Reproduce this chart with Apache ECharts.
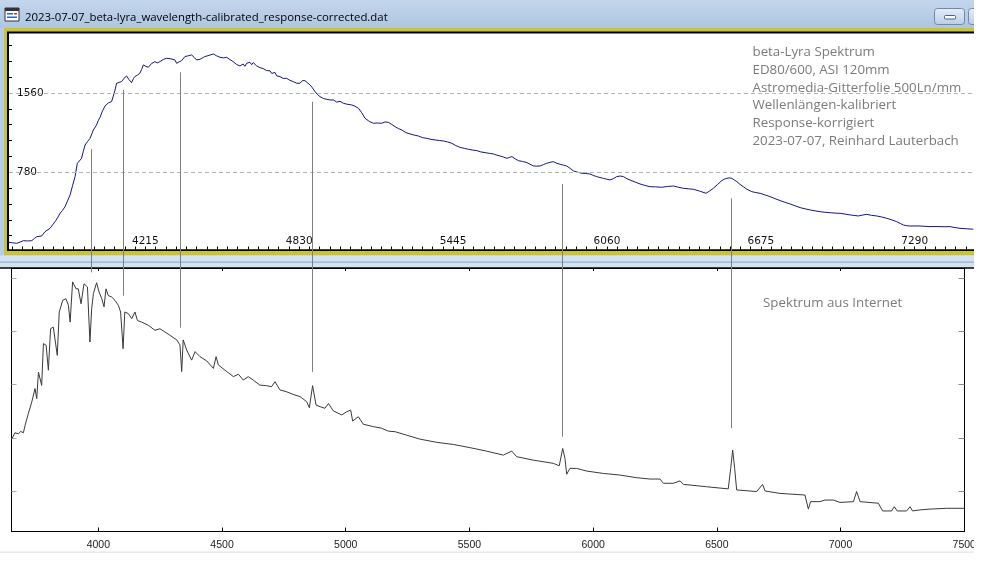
<!DOCTYPE html>
<html>
<head>
<meta charset="utf-8">
<script src="https://cdn.jsdelivr.net/npm/echarts@6/dist/echarts.min.js"></script>
<style>
  html, body { margin: 0; padding: 0; background: #fff; }
  #main { width: 986px; height: 562px; }
</style>
</head>
<body>
<div id="main"></div>
<script>
// ---- eigenes Spektrum (oben), Wellenlaenge in Angstroem / Intensitaet ----
var topWave = [3667, 3684, 3701, 3714, 3727, 3744, 3761, 3771, 3781, 3801, 3814, 3834, 3844, 3854, 3864, 3874, 3884, 3894, 3904, 3914,
  3924, 3934, 3943, 3951, 3960, 3967, 3974, 3984, 3994, 4007, 4014, 4020, 4027, 4034, 4044, 4054, 4067, 4080, 4087, 4094,
  4100, 4110, 4120, 4130, 4140, 4150, 4160, 4167, 4173, 4183, 4193, 4200, 4207, 4217, 4227, 4240, 4247, 4253, 4263, 4273,
  4287, 4300, 4317, 4333, 4340, 4350, 4360, 4373, 4387, 4400, 4410, 4420, 4433, 4443, 4453, 4470, 4487, 4500, 4513, 4527,
  4540, 4553, 4566, 4580, 4593, 4606, 4613, 4620, 4633, 4640, 4646, 4660, 4666, 4673, 4686, 4693, 4700, 4713, 4720, 4726,
  4733, 4740, 4753, 4760, 4766, 4780, 4786, 4793, 4806, 4813, 4820, 4833, 4843, 4853, 4860, 4873, 4883, 4893, 4903, 4913,
  4927, 4940, 4953, 4967, 4980, 4993, 5007, 5020, 5040, 5053, 5067, 5080, 5093, 5110, 5127, 5143, 5160, 5173, 5186, 5200,
  5213, 5226, 5240, 5256, 5273, 5290, 5306, 5323, 5340, 5356, 5373, 5390, 5406, 5423, 5440, 5456, 5473, 5490, 5506, 5523,
  5540, 5556, 5573, 5590, 5606, 5620, 5633, 5646, 5660, 5670, 5680, 5693, 5706, 5723, 5740, 5753, 5766, 5780, 5793, 5806,
  5819, 5833, 5846, 5860, 5873, 5886, 5899, 5913, 5926, 5943, 5959, 5975, 5992, 6006, 6019, 6032, 6046, 6059, 6072, 6085,
  6099, 6113, 6126, 6140, 6152, 6172, 6192, 6212, 6232, 6255, 6279, 6302, 6326, 6346, 6366, 6386, 6406, 6430, 6456, 6470,
  6485, 6502, 6519, 6529, 6539, 6549, 6559, 6569, 6579, 6592, 6605, 6620, 6639, 6655, 6672, 6692, 6712, 6732, 6752, 6772,
  6792, 6812, 6832, 6852, 6872, 6892, 6912, 6932, 6952, 6972, 6992, 7012, 7032, 7048, 7065, 7080, 7098, 7118, 7138, 7158,
  7178, 7198, 7218, 7232, 7245, 7258, 7271, 7291, 7311, 7331, 7351, 7371, 7391, 7411, 7431, 7451, 7471, 7498, 7524];
var topFlux = [91, 86, 81, 92, 107, 104, 107, 128, 146, 153, 196, 228, 262, 294, 331, 376, 405, 442, 498, 556,
  648, 737, 868, 890, 917, 985, 1048, 1082, 1114, 1196, 1210, 1245, 1290, 1321, 1385, 1432, 1462, 1475, 1530, 1590,
  1655, 1664, 1672, 1705, 1727, 1690, 1662, 1700, 1721, 1735, 1754, 1790, 1836, 1822, 1813, 1850, 1835, 1868, 1856, 1868,
  1890, 1901, 1896, 1885, 1852, 1866, 1878, 1918, 1926, 1934, 1910, 1885, 1891, 1905, 1918, 1930, 1944, 1925, 1911, 1905,
  1911, 1889, 1868, 1840, 1826, 1845, 1822, 1852, 1862, 1838, 1859, 1826, 1842, 1809, 1800, 1816, 1780, 1778, 1752, 1747,
  1762, 1728, 1721, 1738, 1703, 1704, 1718, 1684, 1672, 1690, 1656, 1655, 1682, 1681, 1662, 1639, 1610, 1573, 1545, 1524,
  1505, 1498, 1491, 1491, 1470, 1478, 1458, 1450, 1442, 1430, 1409, 1365, 1311, 1280, 1262, 1264, 1262, 1275, 1271, 1250,
  1229, 1210, 1196, 1170, 1157, 1145, 1137, 1120, 1114, 1104, 1098, 1092, 1088, 1078, 1065, 1042, 1025, 1015, 1006, 998,
  993, 980, 973, 966, 960, 948, 940, 930, 917, 926, 934, 912, 894, 886, 875, 858, 842, 840, 842, 855,
  868, 878, 884, 868, 858, 850, 842, 818, 793, 780, 770, 768, 763, 748, 737, 728, 720, 712, 704, 716,
  737, 743, 737, 716, 704, 684, 665, 650, 638, 636, 632, 640, 645, 632, 622, 617, 612, 595, 573, 595,
  622, 660, 697, 712, 720, 724, 720, 704, 688, 660, 638, 612, 589, 580, 573, 556, 540, 520, 501, 484,
  468, 450, 432, 420, 409, 400, 392, 386, 382, 378, 376, 368, 360, 355, 350, 358, 366, 356, 350, 340,
  327, 312, 294, 276, 261, 254, 251, 252, 251, 248, 245, 246, 245, 244, 245, 236, 228, 224, 219];

// ---- Vergleichsspektrum aus dem Internet (unten), relative Intensitaet ----
var refWave = [3651, 3663, 3677, 3686, 3697, 3704, 3717, 3731, 3737, 3744, 3751, 3758, 3771, 3778, 3789, 3798, 3807, 3818, 3825, 3834,
  3842, 3856, 3869, 3879, 3886, 3896, 3910, 3919, 3930, 3942, 3950, 3956, 3966, 3973, 3980, 3993, 4003, 4014, 4023, 4031,
  4040, 4054, 4067, 4081, 4090, 4100, 4107, 4121, 4135, 4148, 4158, 4175, 4202, 4229, 4249, 4269, 4290, 4317, 4330, 4337,
  4343, 4357, 4377, 4391, 4411, 4438, 4465, 4476, 4485, 4519, 4546, 4566, 4586, 4606, 4626, 4653, 4680, 4700, 4714, 4734,
  4761, 4788, 4815, 4842, 4853, 4866, 4880, 4896, 4916, 4923, 4930, 4950, 4984, 5004, 5020, 5028, 5051, 5071, 5112, 5145,
  5172, 5199, 5246, 5300, 5367, 5435, 5502, 5569, 5637, 5671, 5691, 5758, 5839, 5863, 5877, 5886, 5893, 5906, 5933, 5974,
  6041, 6108, 6176, 6230, 6270, 6284, 6324, 6351, 6365, 6459, 6546, 6556, 6564, 6572, 6580, 6661, 6685, 6695, 6755, 6856,
  6870, 6879, 6917, 6937, 6971, 6998, 7052, 7065, 7079, 7153, 7170, 7206, 7217, 7229, 7267, 7281, 7291, 7321, 7361, 7429,
  7500];
var refFlux = [0.397, 0.419, 0.415, 0.424, 0.419, 0.447, 0.491, 0.535, 0.528, 0.585, 0.547, 0.647, 0.597, 0.754, 0.748, 0.654, 0.810, 0.816, 0.823, 0.710,
  0.873, 0.917, 0.923, 0.898, 0.835, 0.986, 0.960, 0.960, 0.904, 0.979, 0.986, 0.967, 0.760, 0.885, 0.942, 0.983, 0.948, 0.923, 0.892, 0.960,
  0.935, 0.929, 0.917, 0.898, 0.873, 0.735, 0.873, 0.867, 0.848, 0.873, 0.841, 0.835, 0.823, 0.804, 0.810, 0.798, 0.785, 0.768, 0.749, 0.649,
  0.768, 0.730, 0.692, 0.724, 0.705, 0.689, 0.661, 0.705, 0.674, 0.649, 0.630, 0.639, 0.617, 0.630, 0.617, 0.598, 0.596, 0.592, 0.611, 0.580,
  0.573, 0.563, 0.555, 0.536, 0.513, 0.596, 0.523, 0.517, 0.511, 0.508, 0.529, 0.501, 0.486, 0.498, 0.504, 0.463, 0.479, 0.451, 0.442, 0.436,
  0.425, 0.423, 0.410, 0.395, 0.383, 0.375, 0.363, 0.350, 0.335, 0.350, 0.329, 0.316, 0.304, 0.295, 0.360, 0.323, 0.263, 0.285, 0.285, 0.275,
  0.266, 0.260, 0.250, 0.245, 0.245, 0.229, 0.229, 0.238, 0.225, 0.216, 0.208, 0.285, 0.354, 0.285, 0.204, 0.198, 0.225, 0.200, 0.191, 0.185,
  0.132, 0.160, 0.160, 0.166, 0.166, 0.157, 0.160, 0.198, 0.160, 0.154, 0.125, 0.125, 0.141, 0.125, 0.125, 0.141, 0.125, 0.129, 0.132, 0.135,
  0.135];

// Verbindungslinien zwischen beiden Spektren (Ca H, H-delta, H-gamma, H-beta, He I, H-alpha)
var markerWave = [3970, 4101, 4330, 4865, 5875, 6557];
var markerTopFlux = [1009, 1589, 1763, 1474, 664, 523]; // oberes Ende (obere Skala)
var markerRefFlux = [1.022, 0.934, 0.814, 0.648, 0.404, 0.436]; // unteres Ende (untere Skala)

// Achsenbeschriftungen
var topXLabels = [4215, 4830, 5445, 6060, 6675, 7290];
var topYLabels = [780, 1560];
var refXLabels = [4000, 4500, 5000, 5500, 6000, 6500, 7000, 7500];
var refYTicks = [0.2, 0.4, 0.6, 0.8, 1.0];

var windowTitle = '2023-07-07_beta-lyra_wavelength-calibrated_response-corrected.dat';
var noteLines = ['beta-Lyra Spektrum', 'ED80/600, ASI 120mm', 'Astromedia-Gitterfolie 500Ln/mm',
  'Wellenlängen-kalibriert', 'Response-korrigiert', '2023-07-07, Reinhard Lauterbach'];
var refNote = 'Spektrum aus Internet';

// kleine Teilstriche
var topXMinor = [];
for (var t = 4215 - 13 * 41; t < 7543; t += 41) topXMinor.push(t);
var topYMinor = [];
for (var k = 1; k * 156 < 2145; k++) topYMinor.push(k * 156);

function pairs(xs, ys) {
  return xs.map(function (x, i) { return [x, ys[i]]; });
}
function plain(v) { return String(v); } // ohne Tausendertrennzeichen

var chart = echarts.init(document.getElementById('main'));

var option = {
  animation: false,
  backgroundColor: '#fff',
  grid: [
    { left: 9, top: 33.5, width: 969, height: 216 },
    { left: 11.5, top: 268, width: 953, height: 263.5 }
  ],
  xAxis: [
    {
      gridIndex: 0, type: 'value', min: 3670, max: 7543,
      axisLine: { show: false },
      axisTick: { inside: true, length: 3, customValues: topXMinor, lineStyle: { color: '#000' } },
      axisLabel: { inside: true, margin: 3, customValues: topXLabels, formatter: plain, fontFamily: 'DejaVu Sans', fontSize: 10.5, color: '#111' },
      splitLine: { show: false }
    },
    {
      gridIndex: 1, type: 'value', position: 'bottom', min: 3649, max: 7501,
      axisLine: { lineStyle: { color: '#000', width: 1 } },
      axisTick: { inside: true, length: 4, customValues: refXLabels, lineStyle: { color: '#000' } },
      axisLabel: { margin: 8, customValues: refXLabels, formatter: plain, fontFamily: 'Liberation Sans', fontSize: 10.5, color: '#222' },
      splitLine: { show: false }
    },
    {
      gridIndex: 1, type: 'value', position: 'top', min: 3649, max: 7501,
      axisLine: { lineStyle: { color: '#000', width: 1 } },
      axisTick: { inside: true, length: 3, customValues: refXLabels, lineStyle: { color: '#000' } },
      axisLabel: { show: false },
      splitLine: { show: false }
    }
  ],
  yAxis: [
    {
      gridIndex: 0, type: 'value', min: 20, max: 2145, z: 3,
      axisLine: { show: false },
      axisTick: { inside: true, length: 3, customValues: topYMinor, lineStyle: { color: '#000' } },
      axisLabel: {
        inside: true, margin: 6, customValues: topYLabels, formatter: plain, fontFamily: 'DejaVu Sans', fontSize: 10.5,
        color: '#111', backgroundColor: '#fff', padding: [1, 2]
      },
      splitLine: { show: false }
    },
    {
      gridIndex: 1, type: 'value', position: 'left', min: 0.0478, max: 1.0383,
      axisLine: { lineStyle: { color: '#000', width: 1 } },
      axisTick: { inside: true, length: 5, customValues: refYTicks, lineStyle: { color: '#aaa' } },
      axisLabel: { show: false },
      splitLine: { show: false }
    },
    {
      gridIndex: 1, type: 'value', position: 'right', min: 0.0478, max: 1.0383,
      axisLine: { lineStyle: { color: '#000', width: 1 } },
      axisTick: { inside: true, length: 6, customValues: refYTicks, lineStyle: { color: '#888' } },
      axisLabel: { show: false },
      splitLine: { show: false }
    }
  ],
  series: [
    {
      name: 'beta Lyr (eigen)', type: 'line', xAxisIndex: 0, yAxisIndex: 0,
      data: pairs(topWave, topFlux), showSymbol: false, clip: true,
      lineStyle: { color: '#14148c', width: 1 },
      markLine: {
        silent: true, symbol: ['none', 'none'], label: { show: false },
        lineStyle: { color: '#b4b4b4', type: [4, 3], width: 1 },
        data: topYLabels.map(function (v) { return { yAxis: v }; })
      }
    },
    {
      name: 'beta Lyr (Internet)', type: 'line', xAxisIndex: 1, yAxisIndex: 1,
      data: pairs(refWave, refFlux), showSymbol: false, clip: true,
      lineStyle: { color: '#3a3a3a', width: 1 }
    }
  ]
};
chart.setOption(option);

// Fensterrahmen und Texte
var chrome = [
  { type: 'rect', z: -20, shape: { x: 0, y: 0, width: 974, height: 28 },
    style: { fill: new echarts.graphic.LinearGradient(0, 0, 0, 1, [{ offset: 0, color: '#c3d6ec' }, { offset: 1, color: '#aec6e1' }]) } },
  { type: 'rect', z: -20, shape: { x: 0, y: 28, width: 4, height: 234 }, style: { fill: '#b7cde6' } },
  { type: 'rect', z: -19, shape: { x: 4, y: 28, width: 974, height: 227.5 }, style: { fill: '#c8c43a' } },
  { type: 'rect', z: -18, shape: { x: 7, y: 31.5, width: 971, height: 219.5 }, style: { fill: '#000' } },
  { type: 'rect', z: -17, shape: { x: 9, y: 33.5, width: 969, height: 215.8 }, style: { fill: '#fff' } },
  { type: 'rect', z: -20, shape: { x: 0, y: 255.5, width: 974, height: 12 }, style: { fill: '#d3e3f2' } },
  { type: 'rect', z: -19, shape: { x: 0, y: 261.5, width: 974, height: 1.2 }, style: { fill: '#8db2d8' } },
  { type: 'rect', z: -19, shape: { x: 0, y: 267.3, width: 974, height: 1.4 }, style: { fill: '#000' } },
  { type: 'rect', z: -19, shape: { x: 0, y: 551.5, width: 974, height: 1.2 }, style: { fill: '#dfe4ea' } },
  // Programmsymbol
  { type: 'rect', z: -10, shape: { x: 5, y: 8, width: 14, height: 13 }, style: { fill: '#fff', stroke: '#333', lineWidth: 1 } },
  { type: 'rect', z: -9, shape: { x: 5, y: 8, width: 14, height: 3 }, style: { fill: '#333' } },
  { type: 'rect', z: -9, shape: { x: 7, y: 13, width: 6, height: 1.5 }, style: { fill: '#2f5fbf' } },
  { type: 'rect', z: -9, shape: { x: 7, y: 16.5, width: 10, height: 1.5 }, style: { fill: '#2f5fbf' } },
  { type: 'rect', z: -9, shape: { x: 14, y: 13, width: 3, height: 1.5 }, style: { fill: '#c03030' } },
  // Minimieren-Schaltflaeche
  { type: 'rect', z: -10, shape: { x: 934.5, y: 8.5, width: 30, height: 16, r: 3 },
    style: { fill: new echarts.graphic.LinearGradient(0, 0, 0, 1, [{ offset: 0, color: '#e6eef8' }, { offset: 1, color: '#b9cde5' }]), stroke: '#6f87a8', lineWidth: 1 } },
  { type: 'rect', z: -9, shape: { x: 944.5, y: 15.5, width: 11, height: 3.5, r: 1 }, style: { fill: '#fff', stroke: '#4d6283', lineWidth: 1 } },
  { type: 'rect', z: -10, shape: { x: 968.5, y: 8.5, width: 20, height: 16, r: 3 },
    style: { fill: new echarts.graphic.LinearGradient(0, 0, 0, 1, [{ offset: 0, color: '#e6eef8' }, { offset: 1, color: '#b9cde5' }]), stroke: '#6f87a8', lineWidth: 1 } },
  { type: 'text', z: 10, x: 25, y: 17.5,
    style: { text: windowTitle, fill: '#000', font: '11.4px "Open Sans"', textVerticalAlign: 'middle' } },
  { type: 'text', z: 10, x: 763, y: 303.5,
    style: { text: refNote, fill: '#7b7b7b', font: '13.3px "Open Sans"', textVerticalAlign: 'middle' } }
];
noteLines.forEach(function (s, i) {
  chrome.push({ type: 'text', z: 10, x: 752.5, y: 52.3 + 17.8 * i,
    style: { text: s, fill: '#7b7b7b', font: '13.3px "Open Sans"', textVerticalAlign: 'middle' } });
});

// senkrechte Zuordnungslinien ueber beide Diagramme
markerWave.forEach(function (w, i) {
  var x = Math.round(chart.convertToPixel({ xAxisIndex: 1 }, w)) + 0.5;
  var y1 = chart.convertToPixel({ yAxisIndex: 0 }, markerTopFlux[i]);
  var y2 = chart.convertToPixel({ yAxisIndex: 1 }, markerRefFlux[i]);
  chrome.push({ type: 'line', z: 50, shape: { x1: x, y1: y1, x2: x, y2: y2 }, style: { stroke: '#7f7f7f', lineWidth: 1 } });
});

// rechter Bildrand (Screenshot endet hier)
chrome.push({ type: 'rect', z: 100, shape: { x: 974, y: 0, width: 12, height: 562 }, style: { fill: '#fff' } });

chart.setOption({ graphic: chrome });
</script>
</body>
</html>
